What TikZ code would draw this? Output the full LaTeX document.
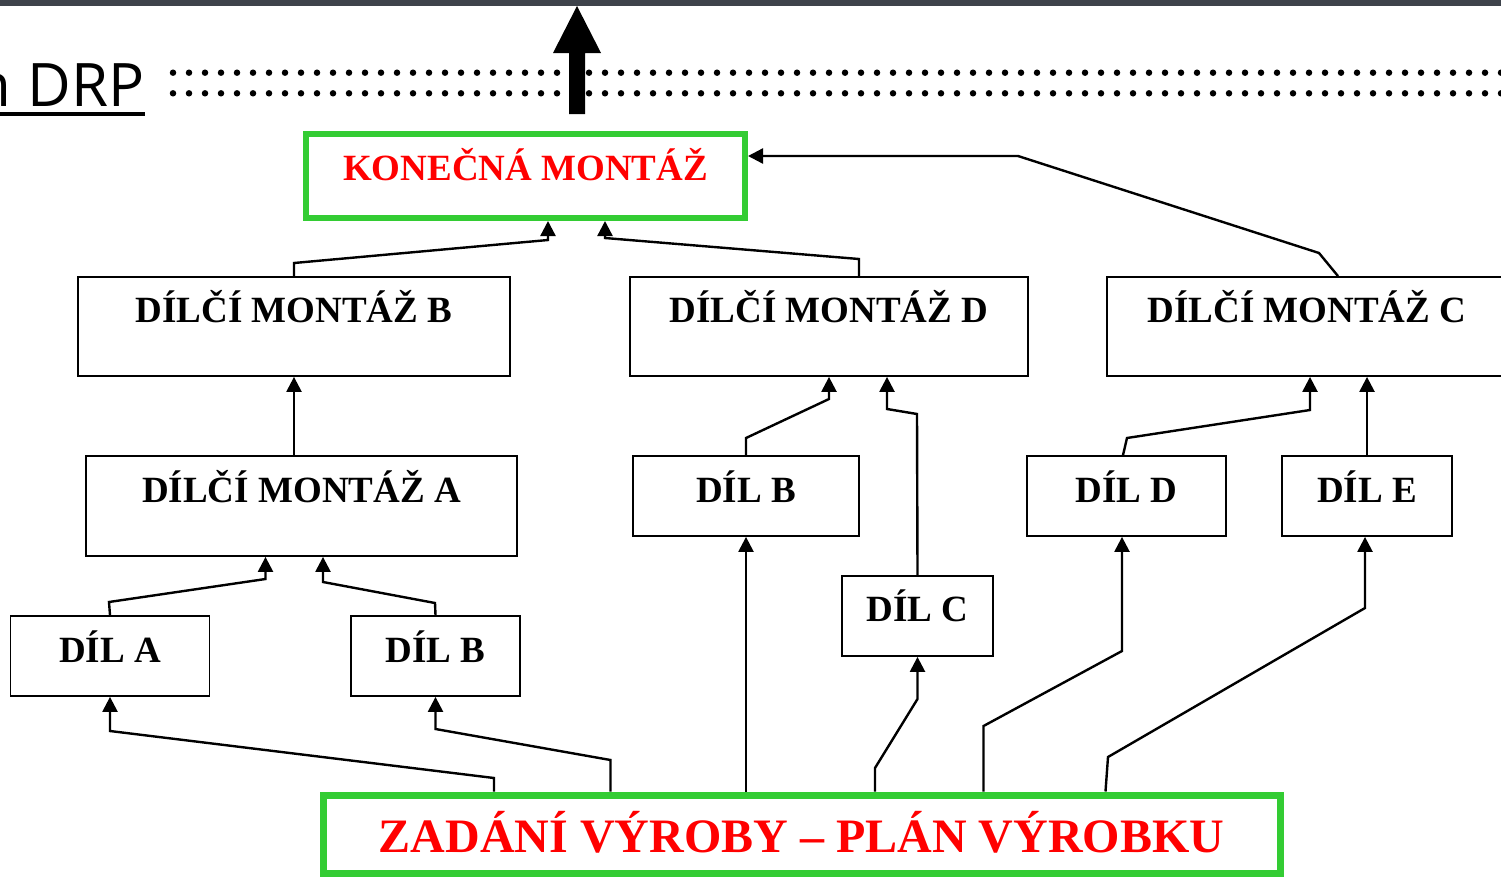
\documentclass[tikz,border=0pt]{standalone}
\usepackage{fontspec}
\setmainfont{Liberation Serif}
\newfontfamily\drpfont{Open Sans}
\usetikzlibrary{arrows.meta}
\definecolor{boxgreen}{RGB}{51,204,51}
\definecolor{topbar}{RGB}{62,67,75}
\definecolor{txtred}{RGB}{255,0,0}
\begin{document}
\begin{tikzpicture}[x=1pt,y=-1pt,
  blk/.style={draw=black, line width=1.8pt, inner sep=0pt, font=\fontsize{37}{40}\selectfont\bfseries, text height=25pt},
  grn/.style={draw=boxgreen, line width=6pt, inner sep=0pt, text=txtred},
  conn/.style={line width=2.4pt, line join=miter, -{Triangle[width=15pt,length=15pt]}},
  dotrow/.style={line width=6.5pt, line cap=round, dash pattern=on 0pt off 16pt}]
\useasboundingbox (0,0) rectangle (1501,876);
\fill[topbar] (0,0) rectangle (1501,6);

% heading fragment
\node[anchor=base east, inner sep=0pt, font=\drpfont\fontsize{60}{68}\selectfont] (drp) at (144.5,106) {n DRP};
\draw[line width=4pt] (0,114) -- (145,114);

% dotted double line and big arrow
\draw[dotrow] (173,72.7) -- (1515,72.7);
\draw[dotrow] (173,93.3) -- (1515,93.3);
\fill[black] (569,114) -- (569,53) -- (553,53) -- (577,6) -- (601,53) -- (585,53) -- (585,114) -- cycle;

% boxes
\node[grn, minimum width=439pt, minimum height=84pt, font=\fontsize{37}{40}\selectfont\bfseries, text height=25pt, text depth=17pt] (kon) at (525.5,176) {KONEČNÁ MONTÁŽ};
\node[blk, minimum width=432pt, minimum height=99pt, text depth=34pt] (dmb) at (294,326.5) {DÍLČÍ MONTÁŽ B};
\node[blk, minimum width=398pt, minimum height=99pt, text depth=34pt] (dmd) at (829,326.5) {DÍLČÍ MONTÁŽ D};
\node[blk, minimum width=400pt, minimum height=99pt, text depth=34pt] (dmc) at (1307,326.5) {DÍLČÍ MONTÁŽ C};
\node[blk, minimum width=431pt, minimum height=100pt, text depth=33pt] (dma) at (301.5,506) {DÍLČÍ MONTÁŽ A};
\node[blk, minimum width=199pt, minimum height=80pt, text depth=13pt] (dilA) at (110,656) {DÍL A};
\node[blk, minimum width=169pt, minimum height=80pt, text depth=13pt] (dilB1) at (435.5,656) {DÍL B};
\node[blk, minimum width=226pt, minimum height=80pt, text depth=13pt] (dilB2) at (746,496) {DÍL B};
\node[blk, minimum width=151pt, minimum height=80pt, text depth=15pt] (dilC) at (917.5,616) {DÍL C};
\node[blk, minimum width=199pt, minimum height=80pt, text depth=13pt] (dilD) at (1126.5,496) {DÍL D};
\node[blk, minimum width=170pt, minimum height=80pt, text depth=13pt] (dilE) at (1367,496) {DÍL E};
\node[grn, line width=7pt, minimum width=957pt, minimum height=78pt, font=\fontsize{48}{52}\selectfont\bfseries, text height=36pt, text depth=0pt] (zad) at (801.5,834) {ZADÁNÍ VÝROBY – PLÁN VÝROBKU};

% connectors into final assembly
\draw[conn] (dmb.north) -- (294,263) -- (548,240) -- ([xshift=22.5pt]kon.south);
\draw[conn] ([xshift=30pt]dmd.north) -- (859,259) -- (605,238) -- ([xshift=79.5pt]kon.south);
\draw[conn] ([xshift=31pt]dmc.north) -- (1319,253) -- (1018,156) -- ([yshift=20pt]kon.east);

% sub-assemblies
\draw[conn] (dmb.south |- dma.north) -- (dmb.south);
\draw[conn] (dilA.north) -- (109,602) -- (265.5,579) -- ([xshift=-36pt]dma.south);
\draw[conn] (dilB1.north) -- (435,603) -- (323,582) -- ([xshift=21.5pt]dma.south);
\draw[conn] (dilB2.north) -- (746,438) -- (829,399) -- (dmd.south);
\draw[conn] (dilC.north) -- (917,414) -- (887,409) -- ([xshift=58pt]dmd.south);
\draw[conn] ([xshift=-3.5pt]dilD.north) -- (1127,438) -- (1310,410) -- ([xshift=3pt]dmc.south);
\draw[conn] (dilE.north) -- (dilE.north |- dmc.south);

% from production plan
\draw[conn] ([xshift=-307.5pt]zad.north) -- (494,778) -- (110,731) -- (dilA.south);
\draw[conn] ([xshift=-191pt]zad.north) -- (610.5,760) -- (435.5,729) -- (dilB1.south);
\draw[conn] (dilB2.south |- zad.north) -- (dilB2.south);
\draw[conn] ([xshift=73.5pt]zad.north) -- (875,768) -- (917.5,699) -- (dilC.south);
\draw[conn] ([xshift=182pt]zad.north) -- (983.5,726) -- (1122,651) -- ([xshift=-4.5pt]dilD.south);
\draw[conn] ([xshift=304pt]zad.north) -- (1108,757) -- (1365,608) -- ([xshift=-2pt]dilE.south);
\end{tikzpicture}
\end{document}
